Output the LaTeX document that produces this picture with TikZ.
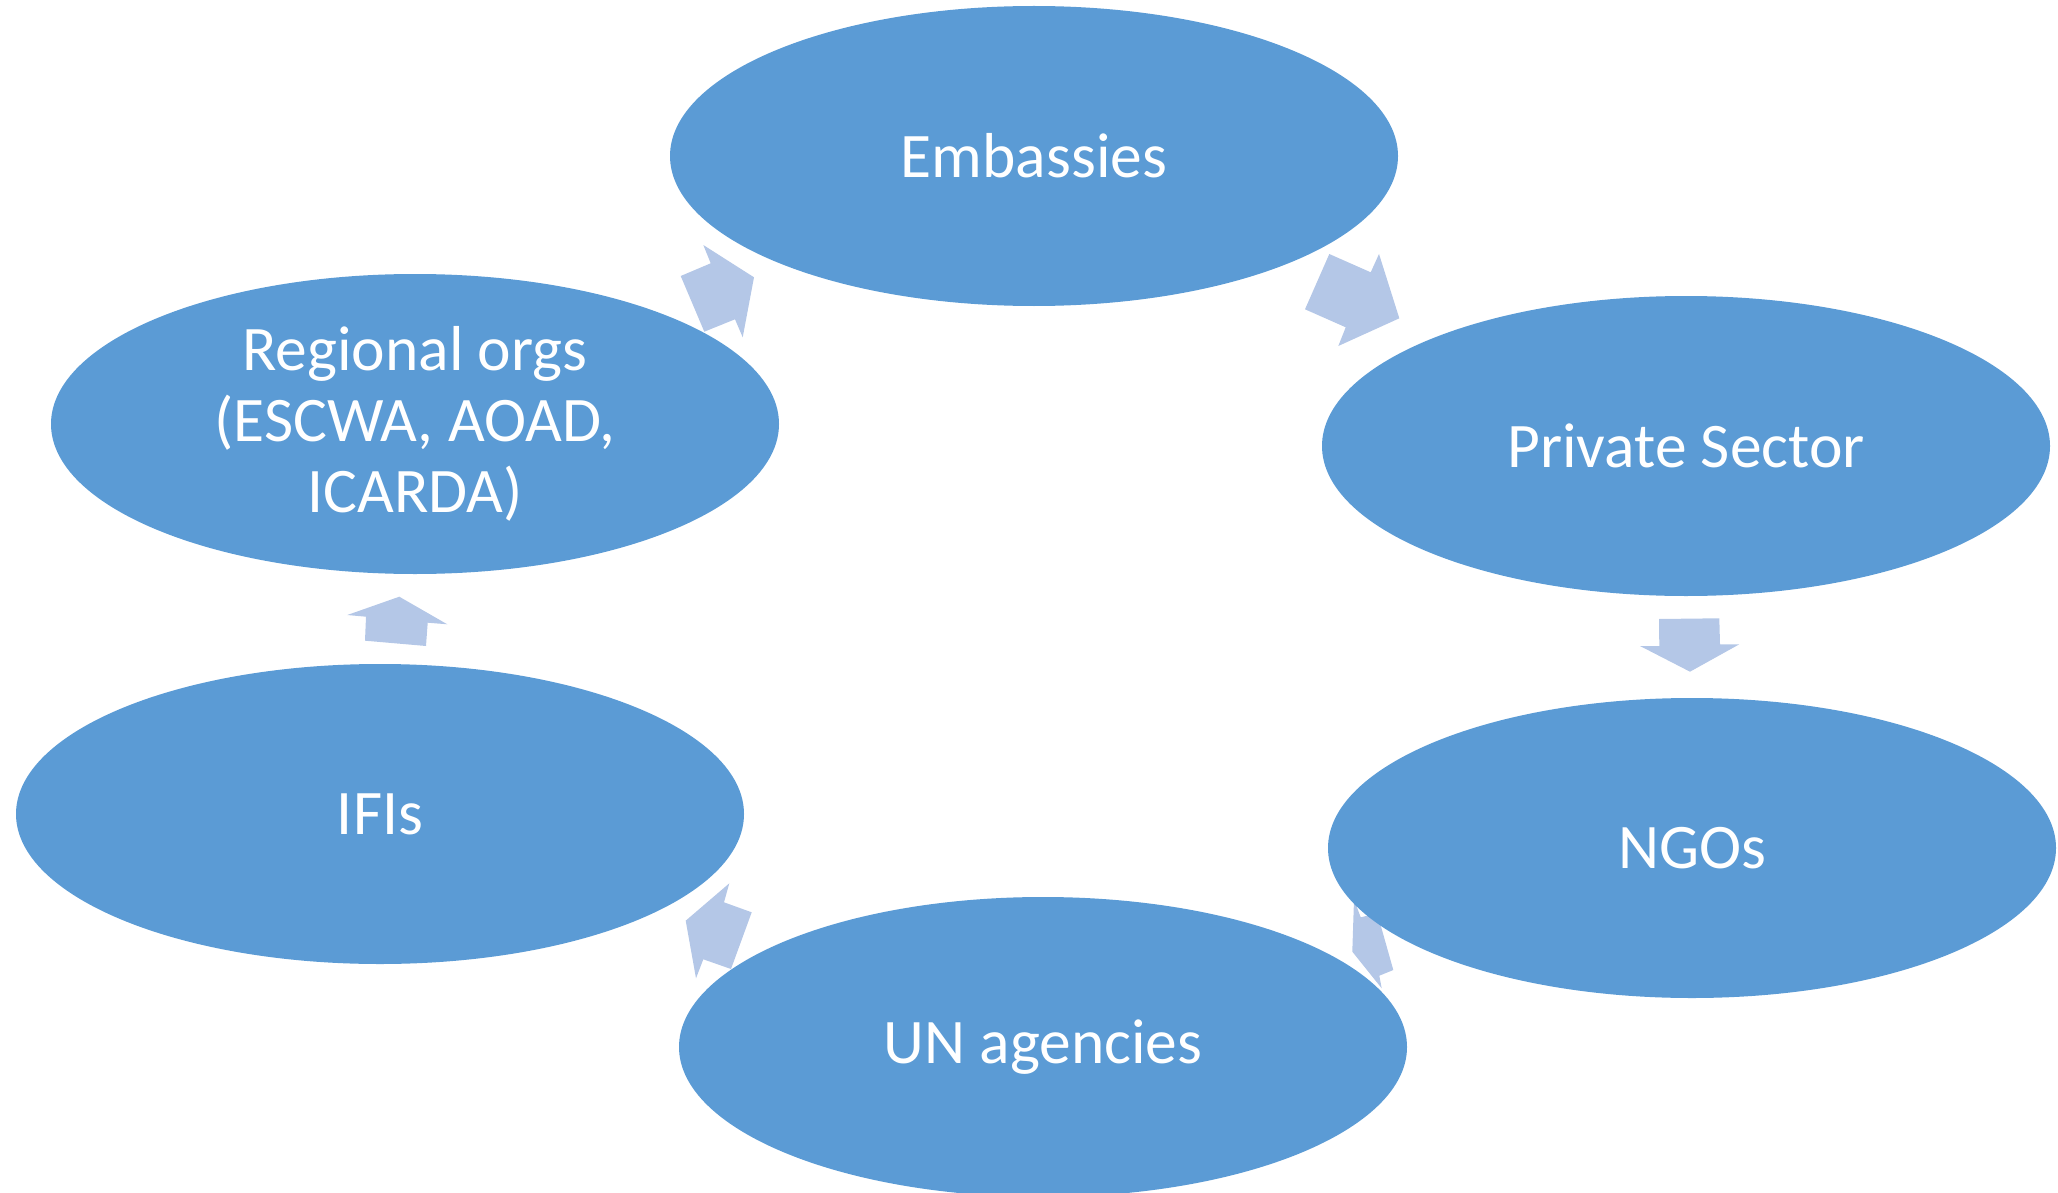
\documentclass[tikz,border=0pt]{standalone}
\usepackage{fontspec}
\setmainfont{Carlito}
\usetikzlibrary{shapes.geometric}
\definecolor{ellblue}{HTML}{5B9BD5}
\definecolor{arrblue}{HTML}{B4C7E7}
\tikzset{
  bubble/.style={ellipse, fill=ellblue, draw=none, minimum width=728pt, minimum height=300pt, inner sep=0pt,
    text=white, align=center, font=\fontsize{63.5}{71}\selectfont},
  blockarrow/.style={fill=arrblue, draw=none}
}
\begin{document}
\begin{tikzpicture}[x=1pt,y=-1pt]
\useasboundingbox (0,0) rectangle (2058,1193);
% block arrows (behind the ellipses)
\fill[blockarrow] (703.3,245) -- (710.7,263.3) -- (680.7,276) -- (704.3,331.7) -- (735,319.3) -- (742.7,337.3) -- (754,277.3) -- cycle;
\fill[blockarrow] (1329.3,254) -- (1370.7,272.3) -- (1379,254) -- (1399.3,318.3) -- (1338.3,346) -- (1345.7,327.3) -- (1305,309.3) -- cycle;
\fill[blockarrow] (1659,619) -- (1719.3,618.3) -- (1720,644.3) -- (1739.3,644.3) -- (1690,671.7) -- (1640,646) -- (1659.3,646) -- cycle;
\fill[blockarrow] (1354,899.3) -- (1360.7,917.3) -- (1377.3,913.3) -- (1393.3,970) -- (1379.3,975.7) -- (1381.7,988.3) -- (1352.3,951.7) -- cycle;
\fill[blockarrow] (729.3,883.3) -- (724,902.3) -- (751.7,912.3) -- (731,969) -- (703.3,959.3) -- (696,978.3) -- (685.7,920.7) -- cycle;
\fill[blockarrow] (347.3,615) -- (399.3,596.7) -- (447.3,624.3) -- (427.7,622.7) -- (426,646) -- (365,640.7) -- (366,616.7) -- cycle;
% ellipses
\node[bubble] (emb) at (1034,156) {Embassies};
\node[bubble] (priv) at (1686,446) {Private Sector};
\node[bubble] (ngo) at (1692,848) {NGOs};
\node[bubble] (un) at (1043,1047) {UN agencies};
\node[bubble] (ifi) at (380,814) {IFIs};
\node[bubble] (reg) at (415,424) {Regional orgs\\(ESCWA, AOAD,\\ICARDA)};
\end{tikzpicture}
\end{document}
